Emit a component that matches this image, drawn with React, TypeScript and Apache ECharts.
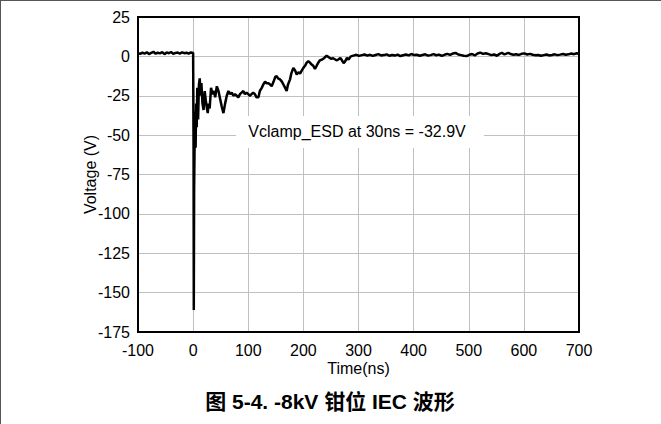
import React, { useEffect, useRef } from "react";
import * as echarts from "echarts";

const xTicks = [-100, 0, 100, 200, 300, 400, 500, 600, 700];
const yTicks = [-175, -150, -125, -100, -75, -50, -25, 0, 25];

const preTimes = [-100, -96, -92, -88, -84, -80, -76, -72, -68, -64, -60, -56, -52, -48, -44, -40, -36, -32, -28, -24, -20, -16, -12, -8, -4, 0];
const preVolts = [2.1, 1.6, 2.4, 1.8, 2.6, 1.5, 2.2, 2.9, 1.7, 2.3, 1.9, 2.7, 1.4, 2.5, 2.0, 2.8, 1.6, 2.2, 2.4, 1.8, 2.6, 2.0, 2.3, 1.7, 2.5, 2.1];

const burstTimes = [0.8, 1.2, 1.8, 2.5, 3.5, 4.5, 5.5, 6.5, 7.5, 9, 10.5, 12, 13.5, 15, 17, 19, 21, 23, 25, 26.5, 28, 30, 32.5, 35, 38, 40, 43, 46, 49, 52, 55, 58, 61, 64, 67, 70, 73, 76, 79, 82, 85, 88, 91, 94, 97, 100, 103, 106, 109, 112, 115, 118.5, 121, 124.5, 127, 130.5, 133, 136.5, 140, 142.5, 146, 149, 151.6, 154, 157.6, 161, 164, 167, 169.7, 172, 175.8, 178, 181.8, 185, 187.9, 191, 194, 197, 200, 203, 206, 209, 212, 215, 218, 221, 224, 227, 230, 234, 238, 242, 246, 250, 254, 258, 261, 264, 267, 270, 273, 276, 279, 282, 286];
const burstVolts = [-60, -161, -85, -62, -35, -58, -30, -45, -20, -40, -18, -14, -25, -17, -30, -34, -22, -28, -33, -36, -30, -33, -20, -24, -22, -26, -19, -22, -27, -32, -36, -30, -25, -22, -24, -23, -25, -24, -25, -26, -24, -23, -22, -24, -23, -24, -25, -24, -23, -24, -26, -26, -22, -20, -18, -16, -17, -17, -18, -19, -16, -13, -12.5, -14, -14.6, -16, -18, -20, -22, -18, -14.6, -11, -7.3, -9, -11.5, -10, -11, -9, -7.3, -6, -4, -3.1, -4, -5.2, -6, -7.9, -6, -4, -2.5, -2, -1, 0.4, -0.5, -1.5, -1.2, -2, -2.5, -1.8, -1, -2.5, -4.3, -3, -1, -2, 0];

const tailTimes = [291, 296, 301, 306, 311, 316, 321, 326, 331, 336, 341, 346, 351, 356, 361, 366, 371, 376, 381, 386, 391, 396, 401, 406, 411, 416, 421, 426, 431, 436, 441, 446, 451, 456, 461, 466, 471, 476, 481, 486, 491, 496, 501, 506, 511, 516, 521, 526, 531, 536, 541, 546, 551, 556, 560, 564, 568, 572, 576, 581, 586, 591, 596, 601, 606, 611, 616, 621, 626, 631, 636, 641, 646, 651, 656, 661, 666, 671, 676, 681, 686, 691, 696, 700];
const tailVolts = [0.5, 1, 0.3, 0.8, 1.2, 0.5, 1, 0.3, 0.9, 1.4, 0.6, 0.8, 1.3, 0.4, 0.9, 0.5, 1.1, 0.2, 0.7, 1.2, 0.6, 1.5, 0.8, 1.0, 0.4, 0.9, 1.3, 0.5, 0.8, 1.4, 0.7, 1.1, 0.3, 1.0, 1.6, 0.9, 1.8, 2.2, 1.2, 0.8, 0.4, 0.2, 1.0, 1.5, 0.6, 1.8, 2.4, 1.6, 2.0, 1.4, 0.8, 1.2, 0.4, 1.6, 2.3, 1.3, 1.7, 2.2, 1.5, 1.0, 1.3, 0.9, 1.6, 1.9, 1.2, 1.6, 1.0, 0.7, 0.9, 0.4, 0.8, 1.2, 0.6, 0.9, 1.3, 0.8, 1.1, 1.5, 1.0, 1.3, 1.8, 1.4, 2.0, 1.5];

const annotation = "Vclamp_ESD at 30ns = -32.9V";
const xName = "Time(ns)";
const yName = "Voltage (V)";
const caption = "图 5-4. -8kV 钳位 IEC 波形";

const FONT = "'Liberation Sans', Arial, 'Noto Sans CJK SC', sans-serif";

export default function App() {
  const ref = useRef<HTMLDivElement>(null);
  useEffect(() => {
    if (!ref.current) return;
    const chart = echarts.init(ref.current, null, { renderer: "svg" });
    const times = [...preTimes, ...burstTimes, ...tailTimes];
    const volts = [...preVolts, ...burstVolts, ...tailVolts];
    const data = times.map((t, i) => [t, volts[i]]);
    chart.setOption({
      animation: false,
      backgroundColor: "#fff",
      textStyle: { fontFamily: FONT },
      grid: {
        left: 138,
        top: 17,
        width: 441,
        height: 315,
        show: true,
        borderColor: "#000",
        borderWidth: 2,
        z: 5,
      },
      xAxis: {
        type: "value",
        min: xTicks[0],
        max: xTicks[xTicks.length - 1],
        interval: 100,
        name: xName,
        nameLocation: "middle",
        nameGap: 28,
        nameMoveOverlap: false,
        nameTextStyle: { color: "#000", fontSize: 16, fontFamily: FONT },
        axisLine: { show: false },
        axisTick: { show: false },
        axisLabel: { color: "#000", fontSize: 16, margin: 10, fontFamily: FONT },
        splitLine: { show: true, lineStyle: { color: "#c0c0c0", width: 1 } },
      },
      yAxis: {
        type: "value",
        min: yTicks[0],
        max: yTicks[yTicks.length - 1],
        interval: 25,
        name: yName,
        nameLocation: "middle",
        nameGap: 40,
        nameMoveOverlap: false,
        nameTextStyle: { color: "#000", fontSize: 16, fontFamily: FONT },
        axisLine: { show: false },
        axisTick: { show: false },
        axisLabel: { color: "#000", fontSize: 16, margin: 8, fontFamily: FONT },
        splitLine: { show: true, lineStyle: { color: "#c0c0c0", width: 1 } },
      },
      series: [
        {
          type: "line",
          data,
          showSymbol: false,
          symbol: "none",
          lineStyle: { color: "#000", width: 2.5 },
          z: 3,
        },
      ],
      graphic: [
        {
          type: "rect",
          shape: { x: 236, y: 116, width: 248, height: 32 },
          style: { fill: "#fff" },
          z: 10,
        },
        {
          type: "text",
          x: 357,
          y: 131,
          style: {
            text: annotation,
            fill: "#000",
            fontSize: 16,
            fontFamily: FONT,
            align: "center",
            verticalAlign: "middle",
          },
          z: 11,
        },
        {
          type: "text",
          x: 330,
          y: 401,
          style: {
            text: caption,
            fill: "#000",
            fontSize: 21,
            fontWeight: "bold",
            fontFamily: FONT,
            align: "center",
            verticalAlign: "middle",
          },
          z: 11,
        },
        {
          type: "line",
          shape: { x1: 0, y1: 0.5, x2: 661, y2: 0.5 },
          style: { stroke: "#555", lineWidth: 1 },
          z: 11,
        },
        {
          type: "line",
          shape: { x1: 0.5, y1: 0, x2: 0.5, y2: 424 },
          style: { stroke: "#555", lineWidth: 1 },
          z: 11,
        },
      ],
    });
    return () => chart.dispose();
  }, []);
  return (
    <div
      ref={ref}
      style={{ position: "absolute", left: 0, top: 0, width: 661, height: 424 }}
    />
  );
}
